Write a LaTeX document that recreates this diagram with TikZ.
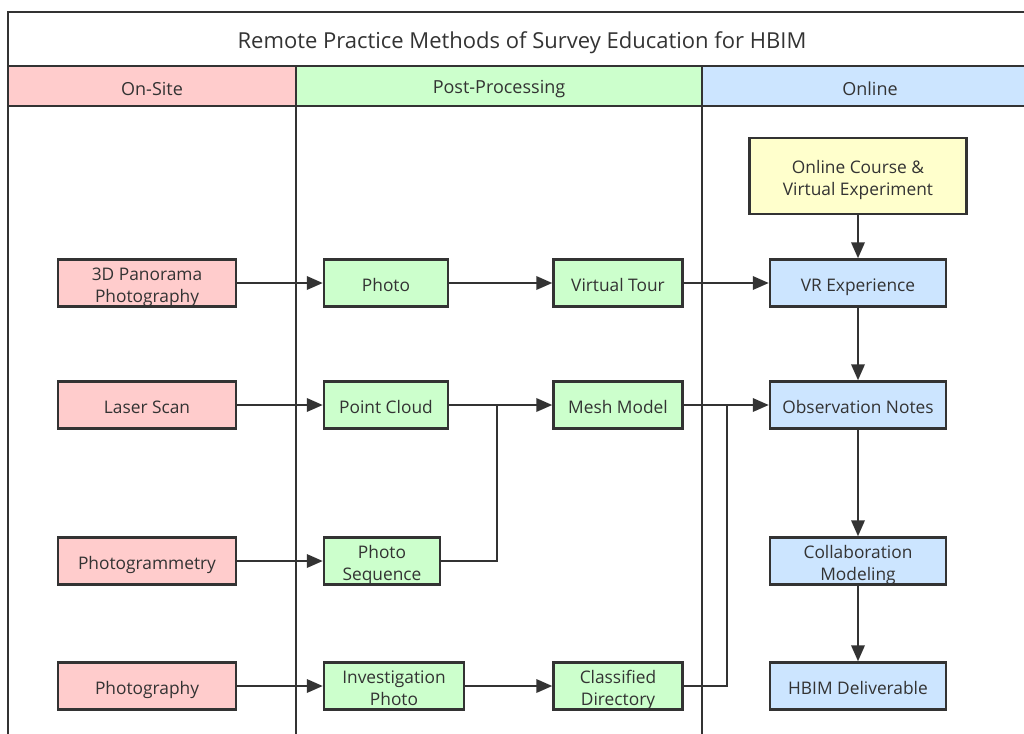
\documentclass[tikz,border=0pt]{standalone}
\usepackage{fontspec}
\setmainfont{Open Sans}
\usetikzlibrary{arrows.meta}
\usetikzlibrary{positioning}

\definecolor{siteFill}{RGB}{255,204,204}
\definecolor{postFill}{RGB}{204,255,204}
\definecolor{onlineFill}{RGB}{204,229,255}
\definecolor{courseFill}{RGB}{255,255,204}
\definecolor{lineGray}{RGB}{51,51,51}
\definecolor{textGray}{RGB}{51,51,51}

\tikzset{
  stage/.style={draw=lineGray, line width=1.8pt, align=center, inner sep=1pt,
    text=textGray, font=\fontsize{13}{16.5}\selectfont, minimum height=35.25pt},
  oneline/.style={text height=14pt, text depth=2pt},
  twoline/.style={text height=29.5pt, text depth=0pt},
  sitebox/.style={stage, fill=siteFill, minimum width=133.5pt},
  postbox/.style={stage, fill=postFill},
  onlinebox/.style={stage, fill=onlineFill, minimum width=132pt},
  coursebox/.style={stage, fill=courseFill, minimum width=162.75pt, minimum height=57pt},
  flow/.style={draw=lineGray, line width=1.8pt, -{Triangle[length=12pt,width=10pt]}},
  link/.style={draw=lineGray, line width=1.8pt},
  frame/.style={draw=lineGray, line width=1.5pt},
  lane/.style={text=textGray, font=\fontsize{13.5}{16}\selectfont}
}

\begin{document}
\begin{tikzpicture}[x=0.75pt,y=0.75pt,yscale=-1]
\useasboundingbox (0,0) rectangle (1024,733);
\begin{scope}
\clip (0,0) rectangle (1024,733);
%header fills
\fill[siteFill] (8,66) rectangle (296,106);
\fill[postFill] (296,66) rectangle (702,106);
\fill[onlineFill] (702,66) rectangle (1030,106);
%frame lines
\draw[frame] (1030,12) -- (8,12) -- (8,740);
\draw[frame] (8,66) -- (1030,66);
\draw[frame] (8,106) -- (1030,106);
\draw[frame] (296,66) -- (296,740);
\draw[frame] (702,66) -- (702,740);
\end{scope}

\node[lane, font=\fontsize{16.5}{20}\selectfont] (title) at (522,43) {Remote Practice Methods of Survey Education for HBIM};
\node[lane] (hsite) at (152,89) {On-Site};
\node[lane] (hpost) at (499,89) {Post-Processing};
\node[lane] (honline) at (870,89) {Online};

%on-site
\node[sitebox, twoline] (pano) at (147,283) {3D Panorama\\Photography};
\node[sitebox, oneline] (laser) at (147,405) {Laser Scan};
\node[sitebox, oneline] (pgm) at (147,561) {Photogrammetry};
\node[sitebox, oneline] (photog) at (147,686) {Photography};

%post-processing
\node[postbox, oneline, minimum width=93pt] (photo) at (386,283) {Photo};
\node[postbox, oneline, minimum width=93pt] (cloud) at (386,405) {Point Cloud};
\node[postbox, twoline, minimum width=87pt] (seq) at (382,561) {Photo\\Sequence};
\node[postbox, twoline, minimum width=105pt] (invest) at (394,686) {Investigation\\Photo};
\node[postbox, oneline, minimum width=96.75pt] (tour) at (618,283) {Virtual Tour};
\node[postbox, oneline, minimum width=96.75pt] (mesh) at (618,405) {Mesh Model};
\node[postbox, twoline, minimum width=96.75pt] (classdir) at (618,686) {Classified\\Directory};

%online
\node[coursebox, twoline] (course) at (858,176) {Online Course \&\\Virtual Experiment};
\node[onlinebox, oneline] (vr) at (858,283) {VR Experience};
\node[onlinebox, oneline] (notes) at (858,405) {Observation Notes};
\node[onlinebox, twoline] (collab) at (858,561) {Collaboration\\Modeling};
\node[onlinebox, oneline] (hbim) at (858,686) {HBIM Deliverable};

\coordinate (joinA) at (497,405);
\coordinate (joinB) at (727,405);

\draw[flow] (pano) -- (photo);
\draw[flow] (photo) -- (tour);
\draw[flow] (tour) -- (vr);
\draw[flow] (laser) -- (cloud);
\draw[flow] (cloud) -- (mesh);
\draw[link] (seq.east) -| (joinA);
\draw[flow] (mesh) -- (notes);
\draw[link] (classdir.east) -| (joinB);
\draw[flow] (pgm) -- (seq);
\draw[flow] (photog) -- (invest);
\draw[flow] (invest) -- (classdir);
\draw[flow] (course) -- (vr);
\draw[flow] (vr) -- (notes);
\draw[flow] (notes) -- (collab);
\draw[flow] (collab) -- (hbim);

\end{tikzpicture}
\end{document}
